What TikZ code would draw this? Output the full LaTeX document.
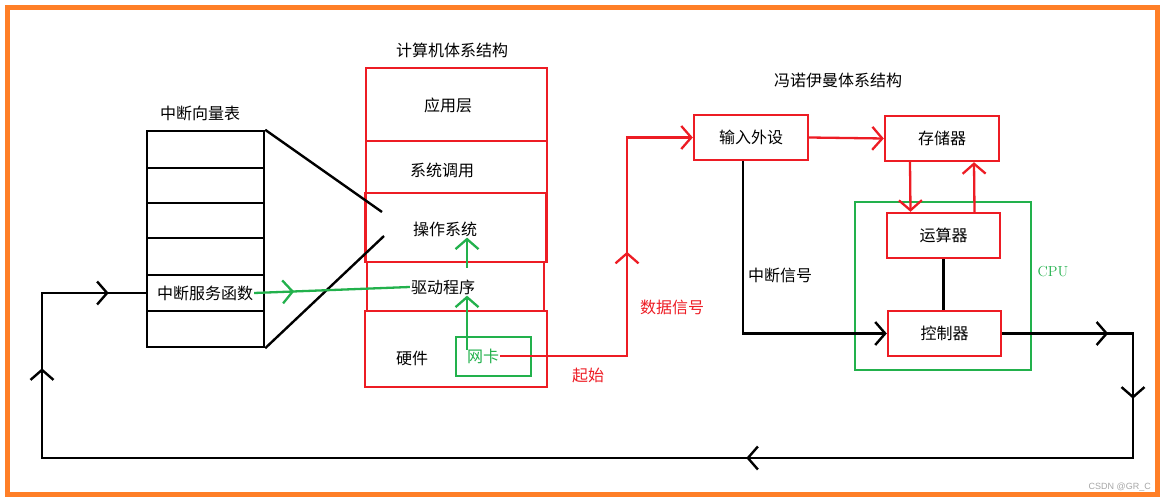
\documentclass[tikz,border=0pt]{standalone}
\usepackage{fontspec}
\newfontfamily\cjk{Noto Sans CJK SC}
\newfontfamily\wmfont{Liberation Sans}
\usepackage{xcolor}
\usepackage{tikz}
\usetikzlibrary{positioning,arrows.meta,decorations.markings}

\definecolor{pred}{HTML}{ED1C24}
\definecolor{pgreen}{HTML}{22B14C}
\definecolor{porange}{HTML}{FF7F27}

\tikzset{
  barb/.tip={Straight Barb[length=10pt,width=23pt]},
  midtip/.style={postaction={decorate},
    decoration={markings, mark=at position #1 with {\arrow{barb}}}},
  cn/.style={font=\cjk\fontsize{16}{18}\selectfont, inner sep=1pt},
  blk/.style={draw=black, line width=2.4pt},
  rline/.style={draw=pred, line width=2.3pt},
  gline/.style={draw=pgreen, line width=2.3pt},
  redbox/.style={draw=pred, line width=2.4pt, inner sep=0pt},
  greenbox/.style={draw=pgreen, line width=2.4pt, inner sep=0pt},
}

\begin{document}
\begin{tikzpicture}[x=1pt, y=-1pt]
  \useasboundingbox (0,0) rectangle (1165,502);
  \draw[porange, line width=5pt] (7.5,7.5) rectangle (1157.5,494.5);

  % interrupt vector table
  \node[cn] (vtabt) at (200,113) {中断向量表};
  \node[blk, minimum width=117pt, minimum height=216pt, inner sep=0pt] (vtab) at (205.5,239) {};
  \foreach \y in {168,203,238,275,311} {
    \draw[blk] (147,\y) -- (264,\y);
  }
  \node[cn] (isr) at (205,293) {中断服务函数};

  % computer architecture stack
  \node[cn] (archt) at (452,50) {计算机体系结构};
  \node[redbox, minimum width=181pt, minimum height=73pt] (app) at (456.5,104.5) {};
  \node[cn] (appt) at (448,105) {应用层};
  \node[redbox, minimum width=181pt, minimum height=52pt] (sys) at (456.5,167) {};
  \node[cn] (syst) at (442,170) {系统调用};
  \node[redbox, minimum width=181pt, minimum height=69pt] (os) at (456,227.5) {};
  \node[cn] (ost) at (445,229) {操作系统};
  \node[redbox, minimum width=177pt, minimum height=49pt] (drv) at (455.5,286.5) {};
  \node[cn] (drvt) at (443,287) {驱动程序};
  \node[redbox, minimum width=182pt, minimum height=76pt] (hw) at (456,349) {};
  \node[cn] (hwt) at (412,358) {硬件};
  \node[greenbox, minimum width=75pt, minimum height=39pt] (nic) at (493.5,356.5) {};
  \node[cn, text=pgreen] (nict) at (483,356) {网卡};

  \coordinate (osa) at (382,212);
  \coordinate (osb) at (384,236);
  \draw[blk] (vtab.north east) -- (osa);
  \draw[blk] (vtab.south east) -- (osb);

  \draw[gline, midtip=40pt] (isr.east) -- (drvt.west);
  \coordinate (g1) at (467,350);
  \coordinate (g2) at (467,268);
  \draw[gline, -{barb}] (g1) -- (g1 |- drvt.south);
  \draw[gline, -{barb}] (g2) -- (g2 |- ost.south);

  % von Neumann part
  \node[cn] (vnt) at (838,80) {冯诺伊曼体系结构};
  \node[redbox, cn, minimum width=114pt, minimum height=45pt] (inp) at (751,137.5) {输入外设};
  \node[greenbox, minimum width=176pt, minimum height=168pt] (cpu) at (943,286) {};
  \node[text=pgreen, font=\fontsize{14.5}{16}\selectfont] (cpul) at (1053,272) {CPU};
  \node[redbox, cn, minimum width=114pt, minimum height=45pt] (mem) at (942,138.5) {存储器};
  \node[redbox, cn, minimum width=113pt, minimum height=45pt] (alu) at (943.5,235.5) {运算器};
  \node[redbox, cn, minimum width=113pt, minimum height=45pt] (ctrl) at (944.5,333.5) {控制器};

  \coordinate (rup) at (627,356);
  \draw[rline, -{barb}, midtip=231pt] (nict.east) -- (rup) |- (inp.west);
  \node[cn, text=pred] (startl) at (588,375) {起始};
  \node[cn, text=pred] (datal) at (672,307) {数据信号};

  \draw[rline, -{barb}] (inp.east) -- (mem.west);
  \draw[rline, -{barb}] ([xshift=-32pt]mem.south) -- ([xshift=-33pt]alu.north);
  \draw[rline, -{barb}] ([xshift=31pt]alu.north) -- ([xshift=32pt]mem.south);
  \draw[blk] (alu.south) -- (alu.south |- ctrl.north);

  \draw[blk, -{barb}] ([xshift=-8pt]inp.south) |- (ctrl.west);
  \node[cn] (intl) at (780,275) {中断信号};

  % back to the vector table
  \coordinate (lr) at (1133,333.5);
  \coordinate (lbr) at (1133,458);
  \coordinate (lbl) at (42,458);
  \coordinate (ltl) at (42,293);
  \draw[blk, postaction={decorate}, decoration={markings,
      mark=at position 106pt with {\arrow{barb}},
      mark=at position 196pt with {\arrow{barb}},
      mark=at position 642pt with {\arrow{barb}},
      mark=at position 1436pt with {\arrow{barb}},
      mark=at position 1578pt with {\arrow{barb}}}]
    (ctrl.east) -- (lr) -- (lbr) -- (lbl) -- (ltl) -- (vtab.west |- isr);

  \node[font=\wmfont\fontsize{9}{10}\selectfont, text=gray!70, anchor=east, inner sep=0pt] (wm) at (1151,487) {CSDN @GR\_C};
\end{tikzpicture}
\end{document}
